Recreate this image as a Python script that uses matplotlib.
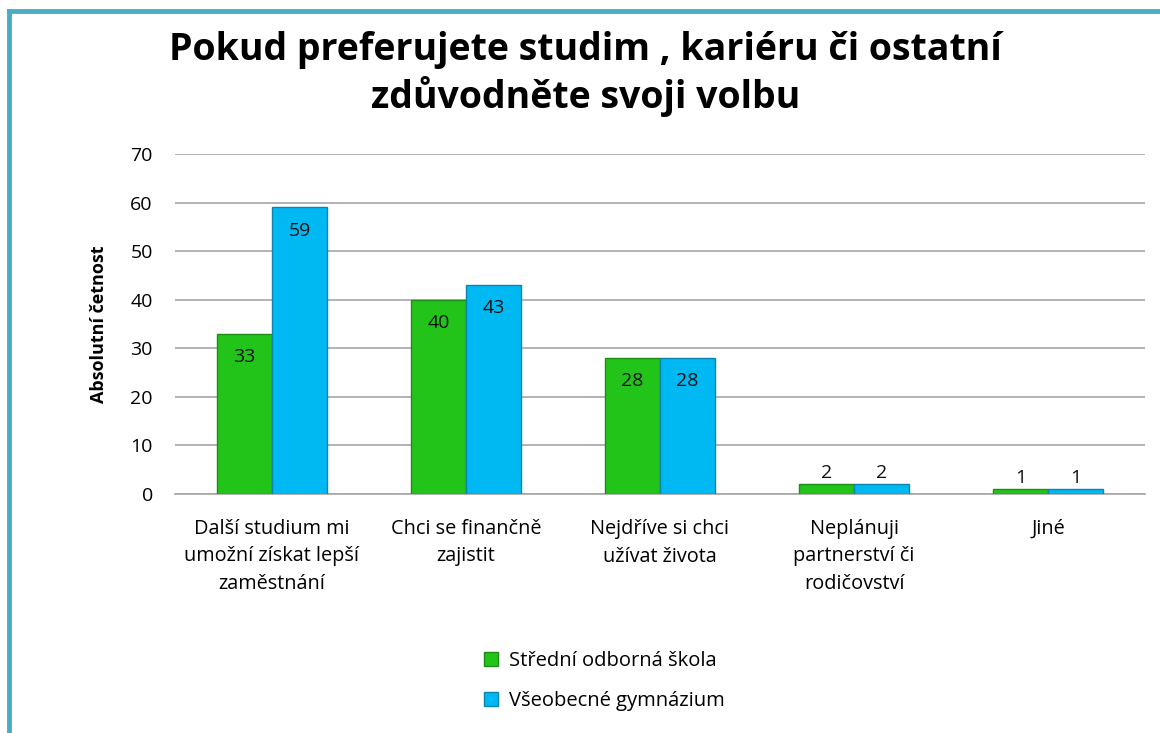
import matplotlib
matplotlib.use("Agg")
import matplotlib.pyplot as plt
import numpy as np
from matplotlib.patches import Rectangle
from matplotlib.lines import Line2D

categories = ["Další studium mi\numožní získat lepší\nzaměstnání",
              "Chci se finančně\nzajistit",
              "Nejdříve si chci\nužívat života",
              "Neplánuji\npartnerství či\nrodičovství",
              "Jiné"]
sos = [33, 40, 28, 2, 1]
gym = [59, 43, 28, 2, 1]
series_names = ["Střední odborná škola", "Všeobecné gymnázium"]

GREEN = "#22c41a"
GREEN_EDGE = "#1a8f14"
BLUE = "#00b9f2"
BLUE_EDGE = "#0a85b0"
FRAME = "#4bacc6"

plt.rcParams["font.family"] = ["Open Sans", "DejaVu Sans"]

fig = plt.figure(figsize=(11.6, 7.33), dpi=100)
ax = fig.add_axes([175 / 1160, 1 - 494 / 733, 970 / 1160, 340 / 733])

x = np.arange(len(categories))
w = 0.283
b1 = ax.bar(x - w / 2, sos, w, color=GREEN, edgecolor=GREEN_EDGE, linewidth=1, zorder=3)
b2 = ax.bar(x + w / 2, gym, w, color=BLUE, edgecolor=BLUE_EDGE, linewidth=1, zorder=3)

for bars, vals in ((b1, sos), (b2, gym)):
    for b, v in zip(bars, vals):
        cx = b.get_x() + b.get_width() / 2
        if v > 5:
            ax.text(cx, v - 4.8, str(v), ha="center", va="center", fontsize=14, color="#111111", zorder=4)
        else:
            ax.text(cx, v + 0.5, str(v), ha="center", va="bottom", fontsize=14, color="#111111", zorder=4)

ax.set_xlim(-0.5, len(categories) - 0.5)
ax.set_ylim(0, 70)
ax.set_yticks(range(0, 71, 10))
ax.yaxis.grid(True, color="#a6a6a6", linewidth=1.2, zorder=0)
ax.set_axisbelow(True)
for s in ("top", "right", "left"):
    ax.spines[s].set_visible(False)
ax.spines["bottom"].set_color("#a6a6a6")
ax.spines["bottom"].set_linewidth(1.2)
ax.tick_params(axis="y", length=0, labelsize=14, pad=16)
ax.tick_params(axis="x", length=0, labelsize=14.3, pad=18)
ax.set_xticks(x)
ax.set_xticklabels(categories, linespacing=1.5, va="top")
ax.set_ylabel("Absolutní četnost", fontsize=13, fontweight="bold", labelpad=16)

fig.text(0.505, 0.958, "Pokud preferujete studim , kariéru či ostatní\nzdůvodněte svoji volbu",
         ha="center", va="top", fontsize=27, fontweight="bold", linespacing=1.22)

handles = [Rectangle((0, 0), 1, 1, facecolor=GREEN, edgecolor=GREEN_EDGE),
           Rectangle((0, 0), 1, 1, facecolor=BLUE, edgecolor=BLUE_EDGE)]
fig.legend(handles, series_names, loc="center", bbox_to_anchor=(0.521, 0.071),
           frameon=False, fontsize=14.5, handlelength=0.7, handleheight=0.7,
           labelspacing=1.0, handletextpad=0.5)

# frame lines (top and left)
fig.add_artist(Line2D([9 / 1160, 1], [1 - 11 / 733, 1 - 11 / 733], color=FRAME, linewidth=3.5,
                      transform=fig.transFigure))
fig.add_artist(Line2D([9 / 1160, 9 / 1160], [0, 1 - 11 / 733], color=FRAME, linewidth=3.5,
                      transform=fig.transFigure))

fig.savefig("out.png", dpi=100)
